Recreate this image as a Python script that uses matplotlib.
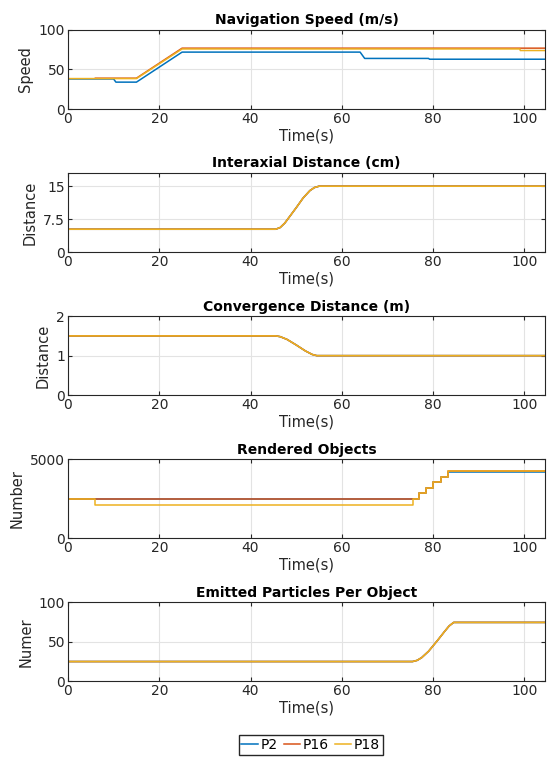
import numpy as np
import matplotlib
matplotlib.use('Agg')
import matplotlib.pyplot as plt

# series names and colours (matlab default order)
names = ['P2', 'P16', 'P18']
colors = ['#0072BD', '#D95319', '#EDB120']

# navigation speed (m/s), breakpoints
spd_t = {'P2': [0, 10, 10.5, 15, 25, 64, 65, 79, 79.2, 104.5],
         'P16': [6, 15, 25, 104.5],
         'P18': [0, 15, 25, 99, 99.1, 104.5]}
spd_v = {'P2': [38, 38, 34, 34, 72, 72, 64, 64, 63, 63],
         'P16': [39, 39, 77, 77],
         'P18': [38.5, 38.5, 76, 76, 74, 74]}

# interaxial distance (cm)
ia_t = [0, 45.5, 46.5, 47.5, 48.5, 50, 51.5, 53, 54, 55, 104.5]
ia_v = [5.2, 5.2, 5.6, 6.6, 8.0, 10.1, 12.3, 14.0, 14.7, 15.0, 15.0]

# convergence distance (m)
cv_t = [0, 45.5, 46.5, 48, 50, 52, 53.5, 54.5, 104.5]
cv_v = [1.5, 1.5, 1.48, 1.41, 1.27, 1.12, 1.03, 1.0, 1.0]

# rendered objects
ro_t = {'P2': [0, 75.5, 75.5, 77, 77, 78.5, 78.5, 80, 80, 81.8, 81.8, 83.3, 83.3, 104.5],
        'P16': [0, 75.5, 75.5, 77, 77, 78.5, 78.5, 80, 80, 81.8, 81.8, 83.3, 83.3, 104.5],
        'P18': [0, 6, 6, 75.5, 75.5, 77, 77, 78.5, 78.5, 80, 80, 81.8, 81.8, 83.3, 83.3, 104.5]}
ro_v = {'P2': [2480, 2480, 2480, 2480, 2830, 2830, 3150, 3150, 3540, 3540, 3890, 3890, 4215, 4215],
        'P16': [2480, 2480, 2480, 2480, 2830, 2830, 3150, 3150, 3540, 3540, 3890, 3890, 4230, 4230],
        'P18': [2480, 2480, 2125, 2125, 2480, 2480, 2830, 2830, 3150, 3150, 3540, 3540, 3890, 3890, 4230, 4230]}

# emitted particles per object
ep_t = [0, 75.5, 76.5, 77.5, 79, 80, 81, 82.5, 83.5, 84.5, 104.5]
ep_v = [25, 25, 26.5, 30, 38, 45, 52, 63, 70, 74.5, 74.5]

plt.rcParams['font.family'] = 'DejaVu Sans'
fig = plt.figure(figsize=(5.54, 7.57), dpi=100)

bottoms = [0.856, 0.667, 0.478, 0.289, 0.100]
axs = [fig.add_axes([0.1227, b, 0.861, 0.1044]) for b in bottoms]

lw = 1.1
for i, n in enumerate(names):
    axs[0].plot(spd_t[n], spd_v[n], color=colors[i], lw=lw, label=n)
    axs[1].plot(ia_t, ia_v, color=colors[i], lw=lw)
    axs[2].plot(cv_t, cv_v, color=colors[i], lw=lw)
    axs[3].plot(ro_t[n], ro_v[n], color=colors[i], lw=lw)
    axs[4].plot(ep_t, ep_v, color=colors[i], lw=lw)

titles = ['Navigation Speed (m/s)', 'Interaxial Distance (cm)', 'Convergence Distance (m)',
          'Rendered Objects', 'Emitted Particles Per Object']
ylabels = ['Speed', 'Distance', 'Distance', 'Number', 'Numer']
ylims = [(0, 100), (0, 18), (0, 2), (0, 5000), (0, 100)]
yticks = [[0, 50, 100], [0, 7.5, 15], [0, 1, 2], [0, 5000], [0, 50, 100]]
yticklabels = [['0', '50', '100'], ['0', '7.5', '15'], ['0', '1', '2'], ['0', '5000'], ['0', '50', '100']]

for ax, t, yl, lim, yt, ytl in zip(axs, titles, ylabels, ylims, yticks, yticklabels):
    ax.set_xlim(0, 104.5)
    ax.set_ylim(*lim)
    ax.set_xticks([0, 20, 40, 60, 80, 100])
    ax.set_yticks(yt)
    ax.set_yticklabels(ytl)
    ax.set_title(t, fontsize=10, fontweight='bold', pad=4)
    ax.set_ylabel(yl, fontsize=10.5, color='#262626', labelpad=4)
    ax.set_xlabel('Time(s)', fontsize=10.5, color='#262626', labelpad=2)
    ax.grid(True, color='#e3e3e3', lw=0.8)
    ax.set_axisbelow(True)
    ax.tick_params(direction='in', top=True, right=True, length=3, labelsize=10,
                   colors='#262626', pad=2)
    for s in ax.spines.values():
        s.set_color('#262626')
        s.set_linewidth(0.8)

h, l = axs[0].get_legend_handles_labels()
fig.legend(h, l, loc='center', bbox_to_anchor=(0.561, 0.016), ncol=3, fontsize=10,
           fancybox=False, edgecolor='#262626', framealpha=1, handlelength=1.2,
           handletextpad=0.2, columnspacing=0.4, borderpad=0.2, borderaxespad=0)

fig.savefig('out.png', dpi=100)
